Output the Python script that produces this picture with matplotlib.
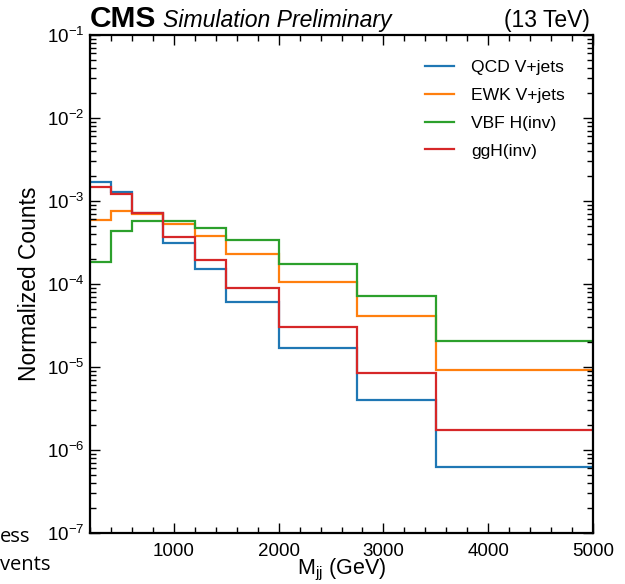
import matplotlib
matplotlib.use("Agg")
import matplotlib.pyplot as plt
import numpy as np
from matplotlib.ticker import LogLocator, MultipleLocator, NullFormatter

# ---- data ----
edges = [200, 400, 600, 900, 1200, 1500, 2000, 2750, 3500, 5000]
labels = ["QCD V+jets", "EWK V+jets", "VBF H(inv)", "ggH(inv)"]
qcd_vjets = [1.71e-3, 1.27e-3, 7.1e-4, 3.14e-4, 1.50e-4, 6.1e-5, 1.70e-5, 3.95e-6, 6.2e-7]
ewk_vjets = [5.9e-4, 7.6e-4, 6.9e-4, 5.33e-4, 3.78e-4, 2.33e-4, 1.06e-4, 4.17e-5, 9.3e-6]
vbf_hinv = [1.85e-4, 4.30e-4, 5.8e-4, 5.7e-4, 4.68e-4, 3.38e-4, 1.73e-4, 7.26e-5, 2.06e-5]
ggh_inv = [1.46e-3, 1.21e-3, 7.2e-4, 3.71e-4, 1.92e-4, 8.9e-5, 3.04e-5, 8.5e-6, 1.75e-6]
series = [qcd_vjets, ewk_vjets, vbf_hinv, ggh_inv]
colors = ["#1f77b4", "#ff7f0e", "#2ca02c", "#d62728"]

plt.rcParams["font.family"] = ["Liberation Sans", "DejaVu Sans"]
plt.rcParams["mathtext.fontset"] = "custom"
plt.rcParams["mathtext.rm"] = "Liberation Sans"
plt.rcParams["mathtext.it"] = "Liberation Sans:italic"
plt.rcParams["mathtext.bf"] = "Liberation Sans:bold"

fig = plt.figure(figsize=(6.25, 5.84), dpi=100)
L, R, T, B = 90 / 625, 593 / 625, 35 / 584, 533 / 584
ax = fig.add_axes([L, 1 - B, R - L, B - T])

for vals, c, lab in zip(series, colors, labels):
    ax.stairs(vals, edges, color=c, lw=1.6, label=lab, baseline=None)

ax.set_yscale("log")
ax.set_xlim(200, 5000)
ax.set_ylim(1e-7, 1e-1)

ax.xaxis.set_major_locator(MultipleLocator(1000))
ax.xaxis.set_minor_locator(MultipleLocator(200))
ax.yaxis.set_major_locator(LogLocator(base=10, numticks=20))
ax.yaxis.set_minor_locator(LogLocator(base=10, subs=np.arange(2, 10), numticks=20))
ax.yaxis.set_minor_formatter(NullFormatter())

ax.tick_params(which="both", direction="in", top=True, right=True, labelsize=13.5, width=1.0)
ax.tick_params(which="major", length=7.5)
ax.tick_params(which="minor", length=4)
ax.tick_params(axis="x", pad=7)
ax.tick_params(axis="y", pad=4)
for s in ax.spines.values():
    s.set_linewidth(1.6)

ax.set_xlabel(r"M$_{\mathrm{jj}}$ (GeV)", fontsize=15.5, labelpad=-2)
ax.set_ylabel("Normalized Counts", fontsize=16.5, labelpad=4)

leg = ax.legend(loc="upper right", frameon=False, fontsize=12.6, handlelength=1.7,
                handletextpad=0.95, labelspacing=0.72, bbox_to_anchor=(0.975, 0.982))

fig.text(L, 1 - 27 / 584, "CMS", fontsize=21.5, fontweight="bold", ha="left", va="baseline")
fig.text(L + 73 / 625, 1 - 27 / 584, "Simulation Preliminary", fontsize=16.6, style="italic",
         ha="left", va="baseline")
fig.text(R - 3 / 625, 1 - 27 / 584, "(13 TeV)", fontsize=16.5, ha="right", va="baseline")

# stray text fragments at left edge
fig.text(0, 1 - 542 / 584, "ess", fontsize=14.5, family="Open Sans", ha="left", va="baseline")
fig.text(0, 1 - 570 / 584, "vents", fontsize=14.5, family="Open Sans", ha="left", va="baseline")

fig.savefig("out.png", dpi=100)
